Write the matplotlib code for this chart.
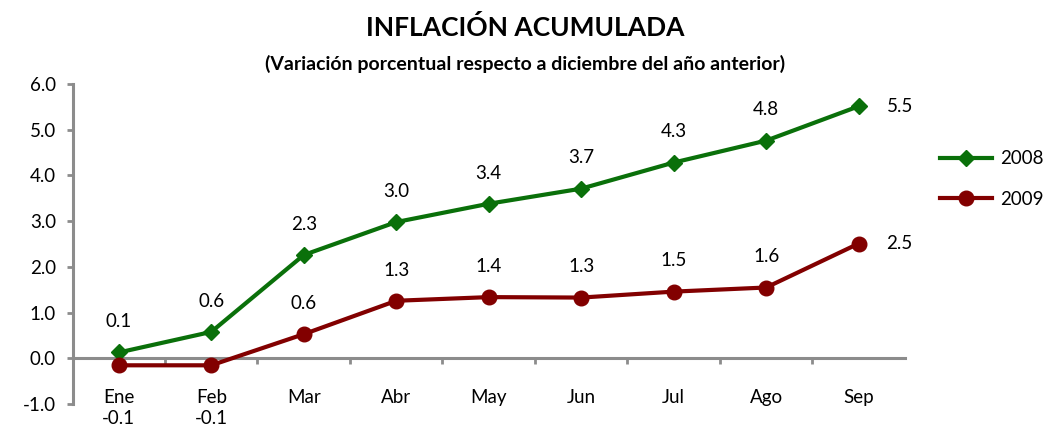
import matplotlib.pyplot as plt
from matplotlib.ticker import FixedLocator, NullFormatter
import numpy as np

plt.rcParams['font.family'] = ['Lato', 'DejaVu Sans']

meses = ['Ene', 'Feb', 'Mar', 'Abr', 'May', 'Jun', 'Jul', 'Ago', 'Sep']
infl_2008 = [0.13, 0.58, 2.26, 2.98, 3.38, 3.71, 4.28, 4.76, 5.51]
infl_2009 = [-0.15, -0.15, 0.53, 1.26, 1.34, 1.33, 1.46, 1.55, 2.51]
etiq_2008 = ['0.1', '0.6', '2.3', '3.0', '3.4', '3.7', '4.3', '4.8', '5.5']
etiq_2009 = ['-0.1', '-0.1', '0.6', '1.3', '1.4', '1.3', '1.5', '1.6', '2.5']

verde = '#0a700a'
granate = '#820000'
gris = '#8c8c8c'
fs = 13.5

fig = plt.figure(figsize=(10.51, 4.30), dpi=100)
ax = fig.add_axes([0.069, 0.06, 0.792, 0.745])

x = np.arange(len(meses))
ax.plot(x, infl_2008, color=verde, lw=3, marker='D', ms=8, label='2008', zorder=3)
ax.plot(x, infl_2009, color=granate, lw=3, marker='o', ms=10.5, label='2009', zorder=3)

for i in range(len(meses)):
    if i == len(meses) - 1:
        ax.annotate(etiq_2008[i], (x[i], infl_2008[i]), xytext=(20, 0),
                    textcoords='offset points', ha='left', va='center', fontsize=fs)
        ax.annotate(etiq_2009[i], (x[i], infl_2009[i]), xytext=(20, 0),
                    textcoords='offset points', ha='left', va='center', fontsize=fs)
        continue
    ax.annotate(etiq_2008[i], (x[i], infl_2008[i]), xytext=(0, 16),
                textcoords='offset points', ha='center', va='bottom', fontsize=fs)
    if infl_2009[i] < 0:
        ax.annotate(etiq_2009[i], (x[i], -1.0), xytext=(0, -4),
                    textcoords='offset points', ha='center', va='top', fontsize=fs)
    else:
        ax.annotate(etiq_2009[i], (x[i], infl_2009[i]), xytext=(0, 16),
                    textcoords='offset points', ha='center', va='bottom', fontsize=fs)

ax.set_xlim(-0.5, len(meses) - 0.5)
ax.set_ylim(-1.0, 6.0)
ax.set_yticks(np.arange(-1, 7, 1))
ax.set_yticklabels([f'{v:.1f}' for v in np.arange(-1, 7, 1)], fontsize=fs)

ax.spines['top'].set_visible(False)
ax.spines['right'].set_visible(False)
ax.spines['bottom'].set_position(('data', 0))
for s in ['left', 'bottom']:
    ax.spines[s].set_color(gris)
    ax.spines[s].set_linewidth(2.2)

ax.set_xticks(x)
ax.set_xticklabels(meses, fontsize=fs)
ax.tick_params(axis='x', which='major', length=0, pad=22)
ax.xaxis.set_minor_locator(FixedLocator(np.arange(0.5, len(meses) - 0.5, 1)))
ax.xaxis.set_minor_formatter(NullFormatter())
ax.tick_params(axis='x', which='minor', length=4, width=2, color=gris, direction='out')
ax.tick_params(axis='y', length=4, width=2, color=gris, pad=8)

fig.legend(loc='upper left', bbox_to_anchor=(0.878, 0.69), frameon=False,
           fontsize=fs, handlelength=2.8, labelspacing=1.25, handletextpad=0.4)

fig.text(0.5, 0.935, 'INFLACIÓN ACUMULADA', ha='center', va='center',
         fontsize=19, fontweight='bold')
fig.text(0.5, 0.852, '(Variación porcentual respecto a diciembre del año anterior)',
         ha='center', va='center', fontsize=14, fontweight='bold')

fig.savefig('out.png', dpi=100)
